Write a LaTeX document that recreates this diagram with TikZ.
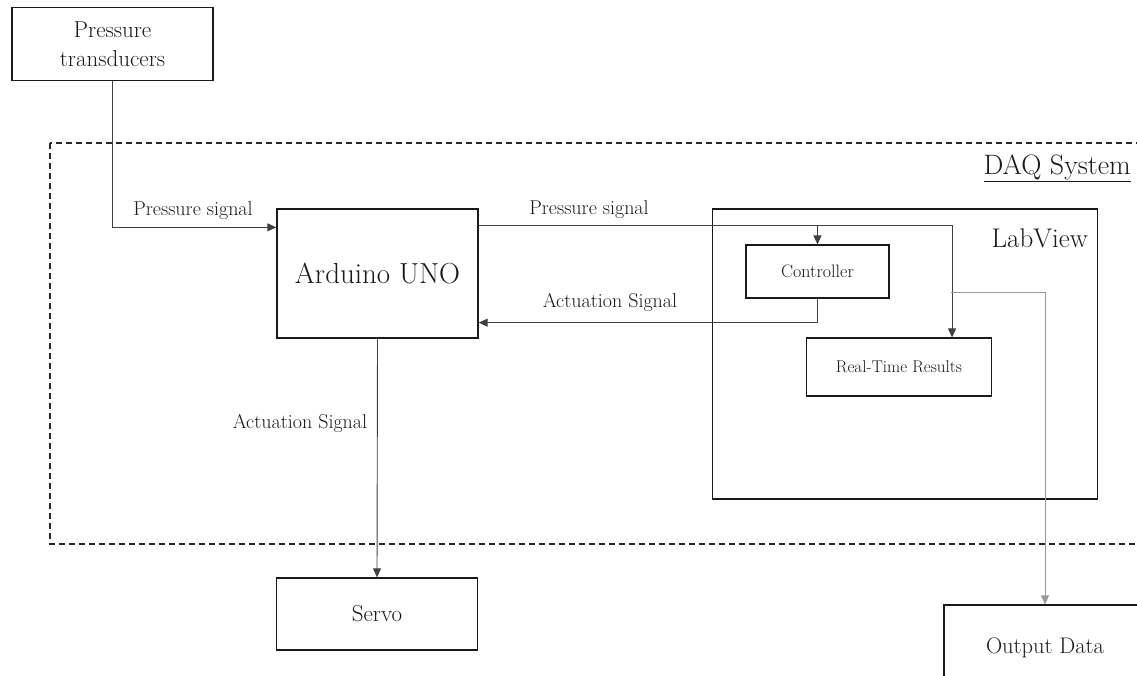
\documentclass[tikz,border=0pt]{standalone}
\usepackage{tikz}
\usetikzlibrary{positioning}
\usetikzlibrary{arrows.meta}

\begin{document}
\begin{tikzpicture}[x=1pt, y=-1pt,
		box/.style={draw=black!90, line width=1.3pt, rectangle, inner sep=0pt, text=black!90},
		sig/.style={draw=black!75, line width=0.9pt, -{Triangle[length=9pt,width=8pt]}},
		lbl/.style={text=black!90, inner sep=0pt}]
				\useasboundingbox (0,0) rectangle (1137,675);
				% DAQ frame
				\draw[black!85, line width=1.3pt, dash pattern=on 6pt off 4pt] (50,143) rectangle (1150,544);
				\node[lbl, anchor=east, font=\fontsize{28}{32}\selectfont] (daq) at (1131,168) {\underline{DAQ System}};
				% blocks
				\node[box, minimum width=201pt, minimum height=73pt, align=center, font=\fontsize{23}{29}\selectfont] (trans) at (112.5,44) {Pressure\\transducers};
				\node[box, minimum width=201pt, minimum height=129pt, font=\fontsize{29}{32}\selectfont] (ard) at (377.5,273.5) {Arduino UNO};
				\node[box, minimum width=201pt, minimum height=72pt, font=\fontsize{23}{26}\selectfont] (servo) at (377,614) {Servo};
				\node[box, minimum width=385pt, minimum height=290pt] (lab) at (905,354) {};
				\node[lbl, anchor=east, font=\fontsize{27}{30}\selectfont] (labt) at (1088,238) {LabView};
				\node[box, line width=1.1pt, minimum width=143pt, minimum height=53pt, font=\fontsize{18}{20}\selectfont] (ctrl) at (817.5,271.5) {Controller};
				\node[box, line width=1.1pt, minimum width=185pt, minimum height=58pt, font=\fontsize{17}{20}\selectfont] (rtr) at (899,367) {Real-Time Results};
				\node[box, minimum width=202pt, minimum height=86pt, font=\fontsize{22.5}{26}\selectfont] (out) at (1045,648) {Output Data};
				% signals
				\draw[sig] (trans.south) |- ([yshift=-19pt]ard.north west);
				\node[lbl, font=\fontsize{20}{22}\selectfont] (ps1) at (193,211) {Pressure signal};
				\coordinate (ps) at ([yshift=-17pt]ard.north east);
				\draw[sig] (ps) -| ([xshift=-40pt]rtr.north east);
				\draw[sig] (ps -| ctrl.north) -- (ctrl.north);
				\node[lbl, font=\fontsize{20}{22}\selectfont] (ps2) at (589,210) {Pressure signal};
				\draw[sig] (ctrl.south) |- ([yshift=16pt]ard.south east);
				\node[lbl, font=\fontsize{20}{22}\selectfont] (as1) at (610,302) {Actuation Signal};
				\draw[sig] (ard.south) -- (servo.north);
				\node[lbl, font=\fontsize{20}{22}\selectfont] (as2) at (300,423) {Actuation Signal};
				\coordinate (br) at (951,292);
				\draw[sig, draw=black!40] (br) -| (out.north);
			\end{tikzpicture}
\end{document}
